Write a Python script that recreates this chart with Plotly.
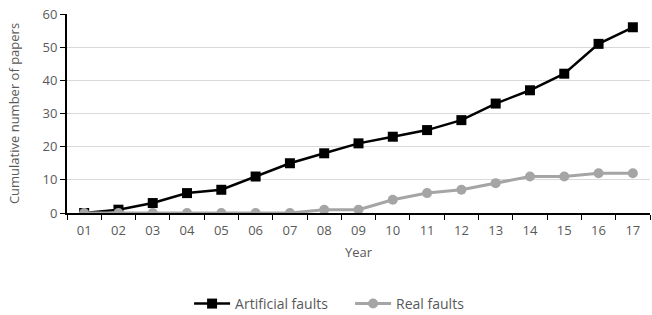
import plotly.graph_objects as go

years = ["01","02","03","04","05","06","07","08","09","10","11","12","13","14","15","16","17"]
artificial = [0,1,3,6,7,11,15,18,21,23,25,28,33,37,42,51,56]
real = [0,0,0,0,0,0,0,1,1,4,6,7,9,11,11,12,12]

xi = list(range(len(years)))

fig = go.Figure()
fig.add_trace(go.Scatter(x=xi, y=artificial, name="Artificial faults", mode="lines+markers",
                         line=dict(color="black", width=2.5),
                         marker=dict(symbol="square", size=10, color="black")))
fig.add_trace(go.Scatter(x=xi, y=real, name="Real faults", mode="lines+markers",
                         line=dict(color="#a5a5a5", width=3),
                         marker=dict(symbol="circle", size=10, color="#a5a5a5")))

fig.update_layout(
    width=652, height=315,
    margin=dict(l=67, r=2, t=14, b=102),
    plot_bgcolor="white", paper_bgcolor="white",
    font=dict(family="Open Sans", size=13, color="#595959"),
    showlegend=True,
    legend=dict(orientation="h", xref="container", x=0.29, xanchor="left",
                yref="container", y=0.035, yanchor="middle", entrywidth=110,
                font=dict(size=14, color="#595959"), itemwidth=36, tracegroupgap=0),
    xaxis=dict(range=[-0.5, len(years)-0.5], tickmode="array", tickvals=xi, ticktext=years,
               ticks="", showgrid=False, zeroline=False, automargin=False,
               ticklabelstandoff=4,
               showline=True, linecolor="black", linewidth=2,
               minor=dict(ticks="outside", tick0=-0.5, dtick=1, ticklen=5, tickcolor="black", tickwidth=1, showgrid=False),
               title=dict(text="Year", font=dict(size=13, color="#595959"), standoff=10)),
    yaxis=dict(range=[0, 60], dtick=10, ticks="outside", ticklen=5, tickcolor="black",
               showgrid=True, gridcolor="#d9d9d9", gridwidth=1, zeroline=False, automargin=False,
               showline=True, linecolor="black", linewidth=2,
               title=dict(text="Cumulative number of papers", font=dict(size=13, color="#595959"), standoff=20)),
)

fig.write_html("out.html", config={"displayModeBar": False},
               post_script="document.body.style.margin='0';document.body.style.overflow='hidden';")
